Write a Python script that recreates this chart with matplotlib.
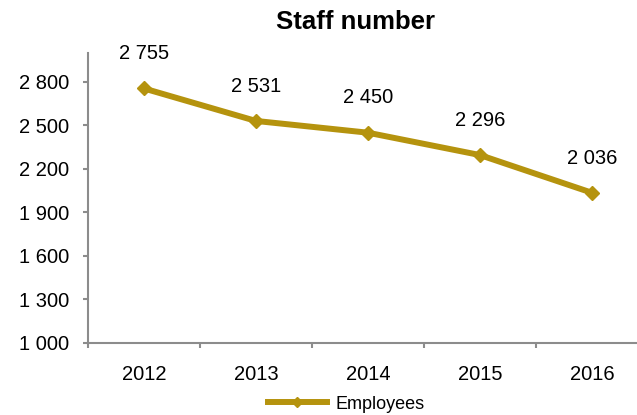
import matplotlib.pyplot as plt
from matplotlib.ticker import FuncFormatter

plt.rcParams['font.family'] = ['Liberation Sans', 'DejaVu Sans']

years = ["2012", "2013", "2014", "2015", "2016"]
employees = [2755, 2531, 2450, 2296, 2036]
y_ticks = [1000, 1300, 1600, 1900, 2200, 2500, 2800]

gold = "#B5930E"
grey = "#8C8C8C"


def spaced(v):
    return f"{int(v):,}".replace(",", " ")


fig = plt.figure(figsize=(6.37, 4.15), dpi=100)
ax = fig.add_axes([0.138, 0.1735, 0.879, 0.699])

x = list(range(len(years)))
ax.plot(x, employees, color=gold, lw=4.3, marker="D", ms=7.5,
        label="Employees")

for xi, v in zip(x, employees):
    ax.annotate(spaced(v), (xi, v), xytext=(0, 25), textcoords="offset points",
                ha="center", va="center", fontsize=14.5)

ax.set_xlim(-0.5, 4.5)
ax.set_ylim(1000, 3000)
ax.set_yticks(y_ticks)
ax.yaxis.set_major_formatter(FuncFormatter(lambda v, p: spaced(v)))

ax.set_xticks([i + 0.5 for i in range(-1, len(years))])
ax.set_xticklabels([])
ax.set_xticks(x, minor=True)
ax.set_xticklabels(years, minor=True)
ax.tick_params(axis="x", which="minor", length=0, pad=16, labelsize=14.5)
ax.tick_params(axis="x", which="major", length=3.6, color=grey, width=1.5)
ax.tick_params(axis="y", length=3.6, color=grey, width=1.5, labelsize=14.5, pad=10)

for s in ["top", "right"]:
    ax.spines[s].set_visible(False)
for s in ["left", "bottom"]:
    ax.spines[s].set_color(grey)
    ax.spines[s].set_linewidth(1.5)

fig.text(356 / 637, 1 - 22 / 415, "Staff number", ha="center", va="center",
         fontsize=18.5, fontweight="bold")

fig.legend(loc="center", bbox_to_anchor=(346 / 637, 1 - 404 / 415), frameon=False,
           fontsize=13, handlelength=3.3, handletextpad=0.45, markerscale=0.7)

fig.savefig("out.png", dpi=100)
